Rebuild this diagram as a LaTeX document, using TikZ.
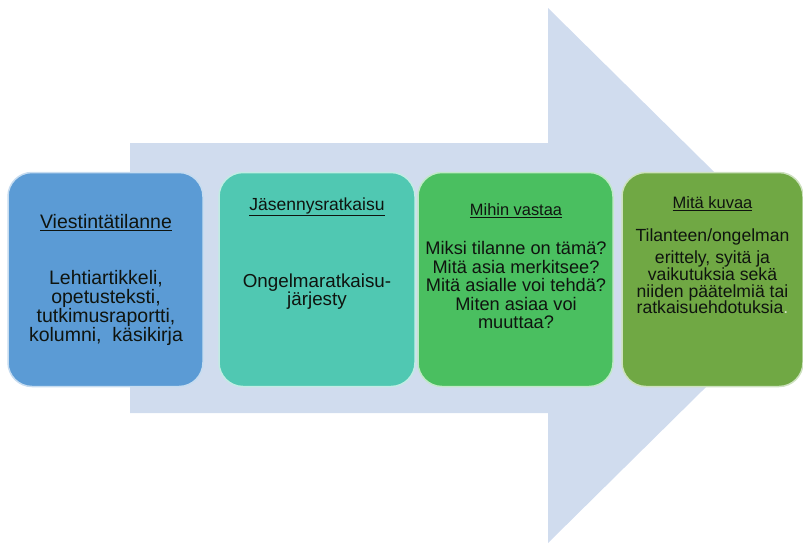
\documentclass[tikz,border=0pt]{standalone}
\usepackage{fontspec}
\setmainfont{Liberation Sans}
\definecolor{arrowc}{RGB}{208,220,238}
\definecolor{bone}{RGB}{91,155,213}
\definecolor{btwo}{RGB}{80,200,178}
\definecolor{bthree}{RGB}{74,191,96}
\definecolor{bfour}{RGB}{112,168,68}
\definecolor{txt}{RGB}{15,20,15}
\begin{document}
\begin{tikzpicture}[x=1pt,y=-1pt,
  box/.style={rounded corners=24pt, line width=1.5pt, minimum height=214pt, inner sep=0pt},
  ttl/.style={text=txt, font=\fontsize{#1}{#1}\selectfont, inner sep=0pt},
  body/.style={text=txt, align=center, inner sep=0pt}]
\useasboundingbox (0,0) rectangle (803,544);
\begin{scope}
\clip (0,0) rectangle (803,544);
\fill[arrowc] (130,143) -- (548,143) -- (548,8) -- (819,275.5) -- (548,543) -- (548,413) -- (130,413) -- cycle;
\end{scope}
% boxes
\node[box, fill=bone, draw=bone!35!white, minimum width=195pt] (b1) at (105.5,279.5) {};
\node[box, fill=btwo, draw=btwo!35!white, minimum width=196pt] (b2) at (317,279.5) {};
\node[box, fill=bthree, draw=bthree!35!white, minimum width=195pt] (b3) at (515.5,279.5) {};
\node[box, fill=bfour, draw=bfour!35!white, minimum width=181pt] (b4) at (712.5,279.5) {};
% box 1
\node[ttl=19.5] (t1) at (106,223) {\underline{Viestintätilanne}};
\node[body, font=\fontsize{19.5}{19}\selectfont] (x1) at (106,307.5) {Lehtiartikkeli,\\opetusteksti,\\tutkimusraportti,\\kolumni,\ \ käsikirja};
% box 2
\node[ttl=17.5] (t2) at (317,206.5) {\underline{Jäsennysratkaisu}};
\node[body, font=\fontsize{18.8}{17}\selectfont] (x2) at (317,291.5) {Ongelmaratkaisu-\\järjesty};
% box 3
\node[ttl=16.4] (t3) at (516,210.5) {\underline{Mihin vastaa}};
\node[body, font=\fontsize{18.2}{18.5}\selectfont] (x3) at (516,285) {Miksi tilanne on tämä?\\Mitä asia merkitsee?\\Mitä asialle voi tehdä?\\Miten asiaa voi\\muuttaa?};
% box 4
\node[ttl=16.5] (t4) at (712.5,204) {\underline{Mitä kuvaa}};
\node[body, font=\fontsize{17.6}{17}\selectfont] (x4a) at (712.5,237) {Tilanteen/ongelman};
\node[body, font=\fontsize{17.6}{16.8}\selectfont] (x4b) at (712.5,282.5) {erittely, syitä ja\\vaikutuksia sekä\\niiden päätelmiä tai\\ratkaisuehdotuksia\textcolor{bfour!30!white}{.}};
\end{tikzpicture}
\end{document}
